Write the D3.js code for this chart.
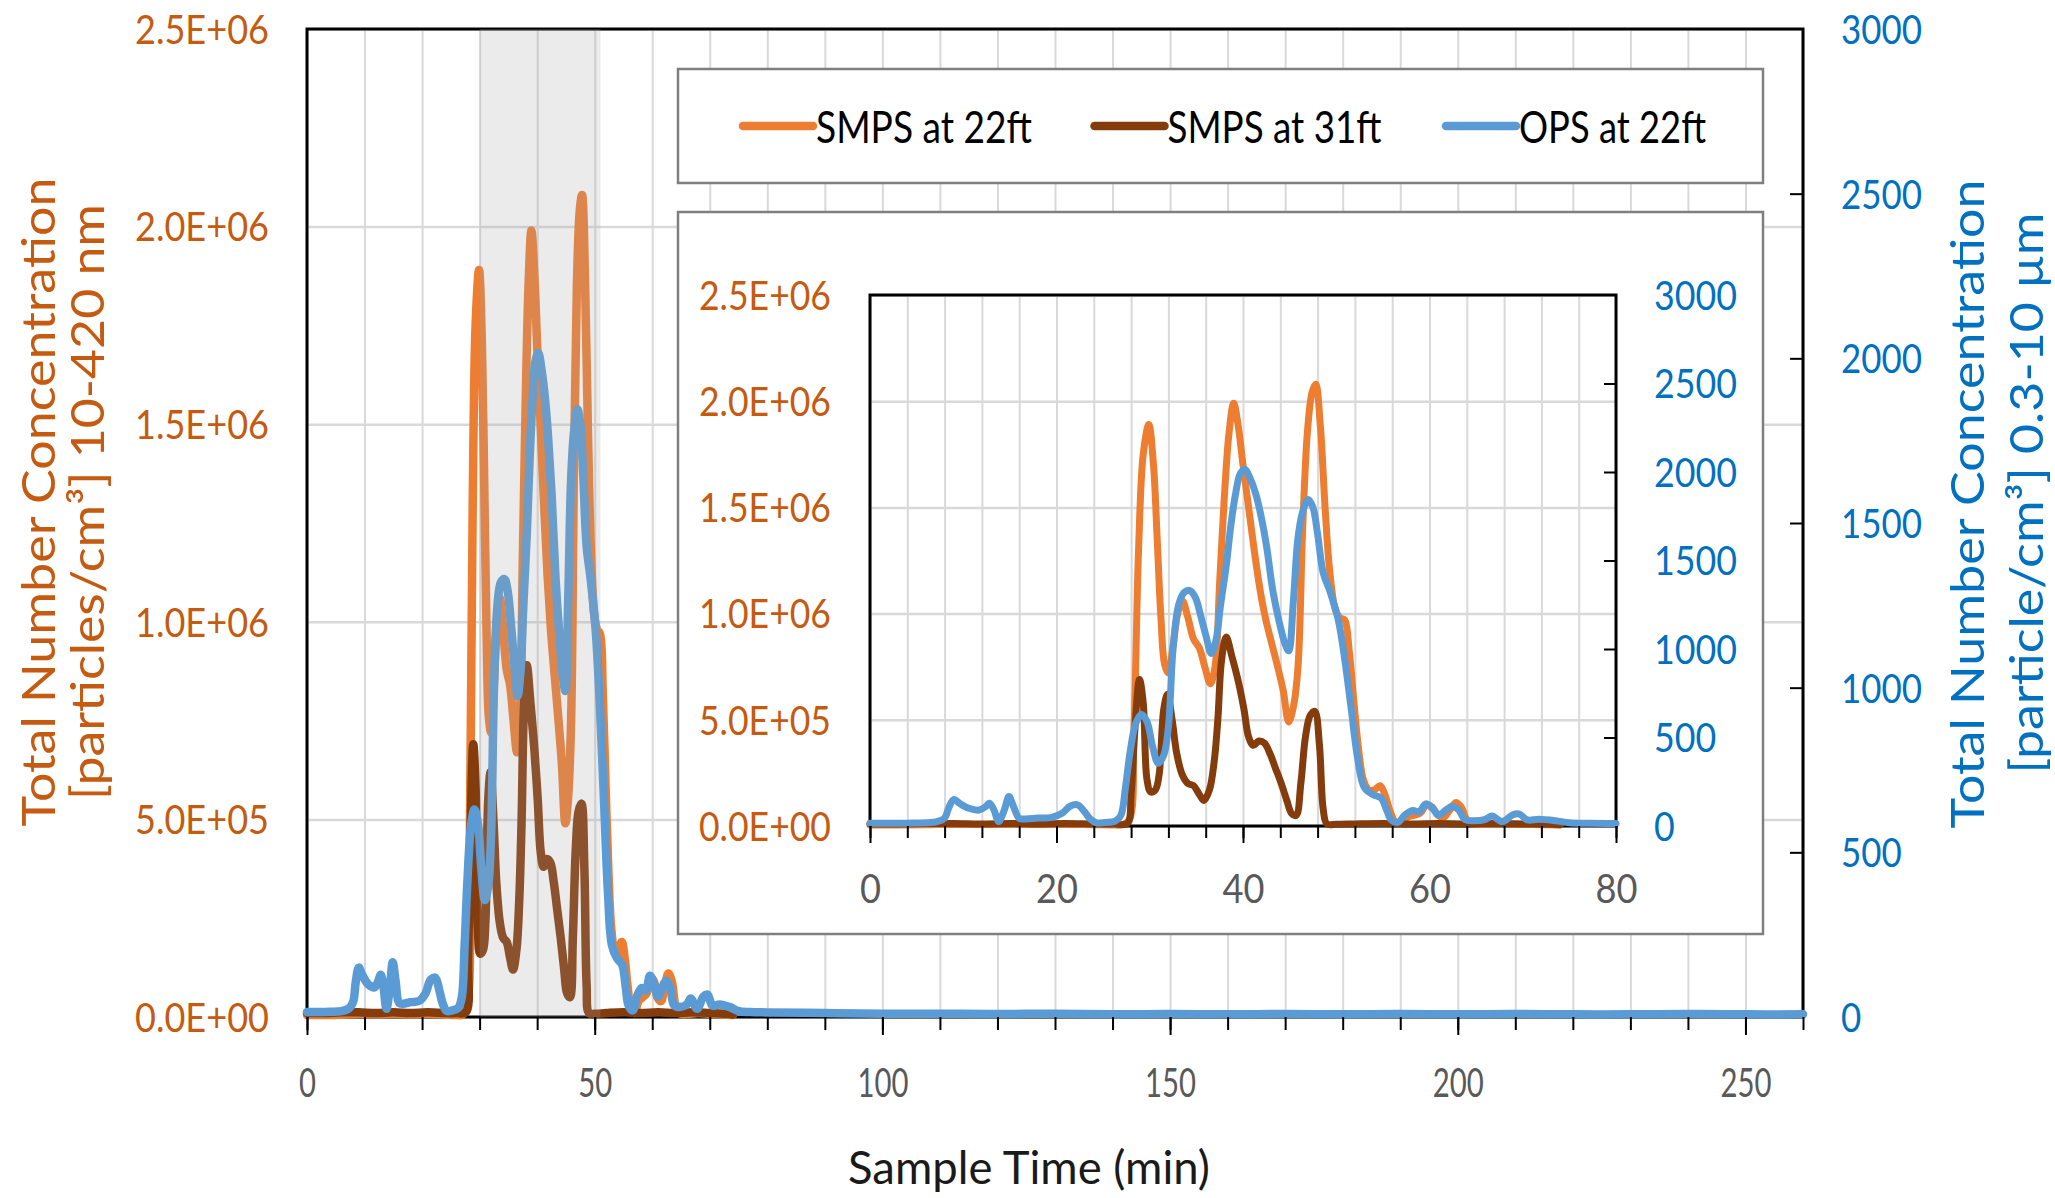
<!DOCTYPE html>
<html>
<head>
<meta charset="utf-8">
<script src="https://cdn.jsdelivr.net/npm/d3@7"></script>
<style>
  html, body { margin: 0; padding: 0; background: #ffffff; }
  svg { display: block; }
</style>
</head>
<body>
<svg id="chart" width="2055" height="1198"></svg>
<script>
// ---------------- DATA ----------------
const seriesNames = ["SMPS at 22ft", "SMPS at 31ft", "OPS at 22ft"];

// SMPS at 22ft : time (min), total number concentration (x10^6 particles/cm3)
const smps22Time = [
  0,3,6,9,12,15,18,21,24,26,
  27,27.8,28.3,28.8,29.3,29.9,30.4,30.8,31.2,31.6,
  32.0,32.5,33.0,33.5,34.1,34.7,35.3,35.9,36.5,37.0,
  37.5,38.0,38.5,39.0,39.5,40.0,40.6,41.2,41.8,42.4,
  42.9,43.6,44.3,44.9,45.4,45.9,46.4,46.9,47.4,47.8,
  48.3,48.8,49.3,49.9,50.4,50.9,51.4,51.9,52.4,52.9,
  53.5,54.1,54.7,55.2,55.7,56.3,56.9,57.6,58.3,59.0,
  59.7,60.3,60.9,61.5,62.1,62.8,63.4,64.0,64.6,66,
  68,70,72,74];
const smps22Values = [
  0.005,0.005,0.006,0.008,0.007,0.008,0.007,0.008,0.006,0.005,
  0.006,0.03,0.45,1.3,1.75,1.89,1.7,1.35,0.98,0.76,
  0.72,0.85,1.0,1.06,0.98,0.88,0.84,0.75,0.67,0.75,
  1.15,1.55,1.85,1.99,1.88,1.7,1.5,1.3,1.12,0.98,
  0.89,0.77,0.64,0.49,0.56,0.75,1.4,1.85,2.04,2.08,
  1.88,1.5,1.2,1.02,0.98,0.97,0.82,0.58,0.36,0.22,
  0.17,0.17,0.19,0.15,0.08,0.02,0.01,0.04,0.05,0.06,
  0.1,0.09,0.05,0.04,0.07,0.11,0.09,0.03,0.01,0.008,
  0.01,0.008,0.006,0.005];

// SMPS at 31ft : time (min), total number concentration (x10^6 particles/cm3)
const smps31Time = [
  0,3,6,9,12,15,18,21,24,26,
  27.6,28.0,28.4,28.9,29.3,29.7,30.1,30.6,31.0,31.5,
  31.9,32.4,32.9,33.5,34.1,34.7,35.3,35.8,36.4,36.9,
  37.3,37.7,38.2,38.8,39.5,40.1,40.6,41.1,41.7,42.3,
  42.9,43.5,44.1,44.7,45.2,45.7,46.2,46.7,47.2,47.7,
  48.2,48.6,49.0,50,52,55,58,61,64,67,
  70,73,74];
const smps31Values = [
  0.01,0.01,0.012,0.012,0.01,0.012,0.01,0.012,0.01,0.01,
  0.012,0.15,0.45,0.69,0.58,0.22,0.16,0.17,0.24,0.55,
  0.62,0.5,0.34,0.24,0.2,0.19,0.15,0.12,0.17,0.3,
  0.5,0.78,0.89,0.8,0.68,0.55,0.42,0.38,0.40,0.39,
  0.34,0.27,0.2,0.12,0.06,0.05,0.2,0.42,0.52,0.54,
  0.38,0.08,0.01,0.008,0.01,0.012,0.01,0.012,0.01,0.012,
  0.01,0.008,0.006];

// OPS at 22ft : time (min), total number concentration (particle/cm3)
const opsTime = [
  0,2,4,6,7.2,8.0,8.5,9.0,9.6,10.6,
  11.7,12.4,12.8,13.3,13.8,14.4,14.9,15.4,16.0,16.7,
  18.0,19.5,20.6,21.5,22.3,23.0,23.6,24.3,25.2,26.3,
  26.9,27.4,27.9,28.5,29.1,29.7,30.3,30.9,31.5,32.0,
  32.5,33.1,33.7,34.3,34.9,35.5,36.0,36.6,37.1,37.6,
  38.2,38.7,39.2,39.7,40.2,40.8,41.4,41.9,42.5,43.2,
  43.9,44.5,44.9,45.4,45.9,46.4,47.0,47.5,48.0,48.6,
  49.3,50.2,50.9,51.6,52.3,53.0,53.9,54.8,55.4,55.9,
  56.6,57.4,58.2,58.9,59.6,60.3,61.0,61.7,62.4,63.1,
  63.8,64.8,66.0,66.7,67.8,68.9,69.6,70.5,71.7,73.5,
  75,77,80,90,100,110,120,130,140,150,
  160,170,180,190,200,210,220,230,240,250,
  260];
const opsValues = [
  15,15,16,18,25,45,110,150,128,100,
  90,110,128,90,25,90,166,109,43,40,
  45,49,72,113,119,81,40,18,20,28,
  60,220,420,580,630,590,450,355,400,560,
  1000,1250,1320,1330,1290,1180,1080,975,1050,1250,
  1470,1700,1875,1990,2016,1960,1870,1760,1590,1330,
  1150,1030,990,1270,1630,1775,1845,1800,1650,1430,
  1330,1168,945,663,380,218,178,158,90,34,
  20,65,88,80,125,100,62,88,110,92,
  36,30,38,56,25,62,68,34,38,30,
  18,15,14,12,10,10,9,10,8,9,
  8,9,8,9,8,9,8,8,9,8,
  8];

// tick values
const leftTicks = [0, 0.5, 1.0, 1.5, 2.0, 2.5];          // x10^6
const rightTicks = [0, 500, 1000, 1500, 2000, 2500, 3000];
const mainXLabels = [0, 50, 100, 150, 200, 250];
const insetXLabels = [0, 20, 40, 60, 80];
const shadeRange = [30, 51];   // grey highlighted period (min)

// ---------------- DRAWING ----------------
const FONT = "Lato, 'Open Sans', 'Noto Sans', sans-serif";
const C_ORANGE = "#ED7D31", C_BROWN = "#843C0C", C_BLUE = "#5B9BD5";
const C_LEFT = "#C55A11", C_RIGHT = "#0070C0";

const seriesList = [
  { name: seriesNames[0], time: smps22Time, values: smps22Values, axis: "left",  color: C_ORANGE },
  { name: seriesNames[1], time: smps31Time, values: smps31Values, axis: "left",  color: C_BROWN },
  { name: seriesNames[2], time: opsTime,    values: opsValues,    axis: "right", color: C_BLUE }
];
seriesList.forEach(s => {
  if (s.time.length !== s.values.length) throw new Error(s.name + " length mismatch " + s.time.length + " vs " + s.values.length);
});

const svg = d3.select("#chart");

function sciFmt(vMillions) {
  const v = vMillions * 1e6;
  if (v === 0) return "0.0E+00";
  const e = Math.floor(Math.log10(v) + 1e-9);
  const m = v / Math.pow(10, e);
  return m.toFixed(1) + "E+" + String(e).padStart(2, "0");
}
function squeezeTo(sel, w) {
  sel.attr("textLength", w).attr("lengthAdjust", "spacingAndGlyphs");
}
function squeezeGroup(sel, refLabel, refWidth) {
  let k = 1;
  sel.each(function () { if (this.textContent === refLabel) k = refWidth / this.getComputedTextLength(); });
  sel.each(function () {
    const L = this.getComputedTextLength();
    d3.select(this).attr("textLength", L * k).attr("lengthAdjust", "spacingAndGlyphs");
  });
}

function drawPanel(p) {
  const g = svg.append("g");
  const W = p.right - p.left, H = p.bottom - p.top;
  const x = d3.scaleLinear().domain(p.xDomain).range([p.left, p.right]);
  const yL = d3.scaleLinear().domain([0, 2.5]).range([p.bottom, p.top]);
  const yR = d3.scaleLinear().domain([0, 3000]).range([p.bottom, p.top]);
  const minorX = d3.range(p.xDomain[0], p.xDomain[1] + 0.001, p.minorStep);

  // vertical grid
  g.append("g").attr("transform", `translate(0,${p.bottom})`)
    .call(d3.axisBottom(x).tickValues(minorX).tickSize(-H).tickFormat(""))
    .call(a => a.select(".domain").remove())
    .selectAll("line").attr("stroke", "#D9D9D9").attr("stroke-width", 2);
  // horizontal grid (primary axis)
  g.append("g").attr("transform", `translate(${p.left},0)`)
    .call(d3.axisLeft(yL).tickValues(leftTicks).tickSize(-W).tickFormat(""))
    .call(a => a.select(".domain").remove())
    .selectAll("line").attr("stroke", "#D9D9D9").attr("stroke-width", 2.5);

  // frame
  g.append("rect").attr("x", p.left).attr("y", p.top).attr("width", W).attr("height", H)
    .attr("fill", "none").attr("stroke", "#000").attr("stroke-width", 3);

  // series lines
  seriesList.forEach(s => {
    const pts = d3.zip(s.time, s.values).filter(d => d[0] >= p.xDomain[0] && d[0] <= p.xDomain[1]);
    const ys = s.axis === "left" ? yL : yR;
    g.append("path").datum(pts)
      .attr("d", d3.line().x(d => x(d[0])).y(d => ys(d[1])).curve(d3.curveCatmullRom.alpha(0.5)))
      .attr("fill", "none").attr("stroke", s.color).attr("stroke-width", p.lineWidth)
      .attr("stroke-linejoin", "round").attr("stroke-linecap", "round");
  });

  // shaded period (drawn over the lines, semi-transparent)
  if (p.shade) {
    g.append("rect").attr("x", x(p.shade[0])).attr("y", p.top)
      .attr("width", x(p.shade[1]) - x(p.shade[0])).attr("height", H)
      .attr("fill", "#A6A6A6").attr("fill-opacity", 0.22);
  }

  // minor x ticks
  g.append("g").attr("transform", `translate(0,${p.bottom})`)
    .call(d3.axisBottom(x).tickValues(minorX).tickSize(p.minorTick).tickFormat(""))
    .call(a => a.select(".domain").remove())
    .selectAll("line").attr("stroke", "#000").attr("stroke-width", 2);
  // major x ticks + labels
  const xa = g.append("g").attr("transform", `translate(0,${p.bottom})`)
    .call(d3.axisBottom(x).tickValues(p.xLabels).tickSize(p.majorTick).tickFormat(d3.format("d")));
  xa.select(".domain").remove();
  xa.selectAll("line").attr("stroke", "#000").attr("stroke-width", 2);
  const xt = xa.selectAll("text").attr("y", p.xLabelOffset).attr("dy", "0.35em")
    .attr("font-family", FONT).attr("font-size", p.fontSize).attr("fill", "#595959");
  squeezeGroup(xt, p.xRef[0], p.xRef[1]);

  // right inside ticks
  g.append("g").attr("transform", `translate(${p.right},0)`)
    .call(d3.axisLeft(yR).tickValues(rightTicks.slice(1, -1)).tickSize(p.minorTick).tickFormat(""))
    .call(a => a.select(".domain").remove())
    .selectAll("line").attr("stroke", "#000").attr("stroke-width", 2);

  // left labels
  const la = g.append("g").attr("transform", `translate(${p.left},0)`)
    .call(d3.axisLeft(yL).tickValues(leftTicks).tickSize(0).tickPadding(p.leftPad).tickFormat(sciFmt));
  la.select(".domain").remove();
  const lt = la.selectAll("text").attr("font-family", FONT).attr("font-size", p.fontSize).attr("fill", C_LEFT).attr("dy", "0.35em");
  squeezeGroup(lt, "2.5E+06", p.leftRefW);

  // right labels
  const ra = g.append("g").attr("transform", `translate(${p.right},0)`)
    .call(d3.axisRight(yR).tickValues(rightTicks).tickSize(0).tickPadding(p.rightPad).tickFormat(d3.format("d")));
  ra.select(".domain").remove();
  const rt = ra.selectAll("text").attr("font-family", FONT).attr("font-size", p.fontSize).attr("fill", C_RIGHT).attr("dy", "0.35em");
  squeezeGroup(rt, "3000", p.rightRefW);
}

// ---- main panel ----
drawPanel({
  left: 307, right: 1803, top: 29, bottom: 1017,
  xDomain: [0, 260], minorStep: 10, xLabels: mainXLabels,
  minorTick: 13, majorTick: 18, xLabelOffset: 66,
  leftPad: 38, rightPad: 38, fontSize: 41,
  leftRefW: 134, rightRefW: 81, xRef: ["100", 51],
  lineWidth: 8.5, shade: shadeRange
});

// axis titles (main)
const xTitle = svg.append("text").attr("x", 1029).attr("y", 1166).attr("text-anchor", "middle")
  .attr("dominant-baseline", "central").attr("font-family", FONT).attr("font-size", 46)
  .attr("fill", "#1a1a1a").text("Sample Time (min)");
squeezeTo(xTitle, 362);

function vTitle(cx, cy, txt, color, w) {
  const t = svg.append("text").attr("transform", `translate(${cx},${cy}) rotate(-90)`)
    .attr("text-anchor", "middle").attr("dominant-baseline", "central")
    .attr("font-family", FONT).attr("font-size", 46).attr("fill", color).text(txt);
  squeezeTo(t, w);
}
vTitle(37, 502, "Total Number Concentration", C_LEFT, 649);
vTitle(86, 502, "[particles/cm³] 10-420 nm", C_LEFT, 596);
vTitle(1966, 504, "Total Number Concentration", C_RIGHT, 649);
vTitle(2025, 493, "[particle/cm³] 0.3-10 µm", C_RIGHT, 561);

// ---- legend ----
const legend = svg.append("g");
legend.append("rect").attr("x", 678).attr("y", 69).attr("width", 1085).attr("height", 114)
  .attr("fill", "#fff").attr("stroke", "#7F7F7F").attr("stroke-width", 2.5);
const legendTextW = [216, 214, 187];
seriesList.forEach((s, i) => {
  const x0 = 743 + i * 351.5;
  legend.append("line").attr("x1", x0).attr("x2", x0 + 70).attr("y1", 126).attr("y2", 126)
    .attr("stroke", s.color).attr("stroke-width", 8.5).attr("stroke-linecap", "round");
  const t = legend.append("text").attr("x", x0 + 73).attr("y", 126).attr("dominant-baseline", "central")
    .attr("font-family", FONT).attr("font-size", 44).attr("fill", "#000").text(s.name);
  squeezeTo(t, legendTextW[i]);
});

// ---- inset ----
svg.append("rect").attr("x", 678).attr("y", 212).attr("width", 1085).attr("height", 722)
  .attr("fill", "#fff").attr("stroke", "#7F7F7F").attr("stroke-width", 2.5);
drawPanel({
  left: 870, right: 1616, top: 295, bottom: 826,
  xDomain: [0, 80], minorStep: 4, xLabels: insetXLabels,
  minorTick: 12, majorTick: 17, xLabelOffset: 63,
  leftPad: 39, rightPad: 38, fontSize: 41,
  leftRefW: 132, rightRefW: 83, xRef: ["20", 42],
  lineWidth: 7, shade: null
});
</script>
</body>
</html>
